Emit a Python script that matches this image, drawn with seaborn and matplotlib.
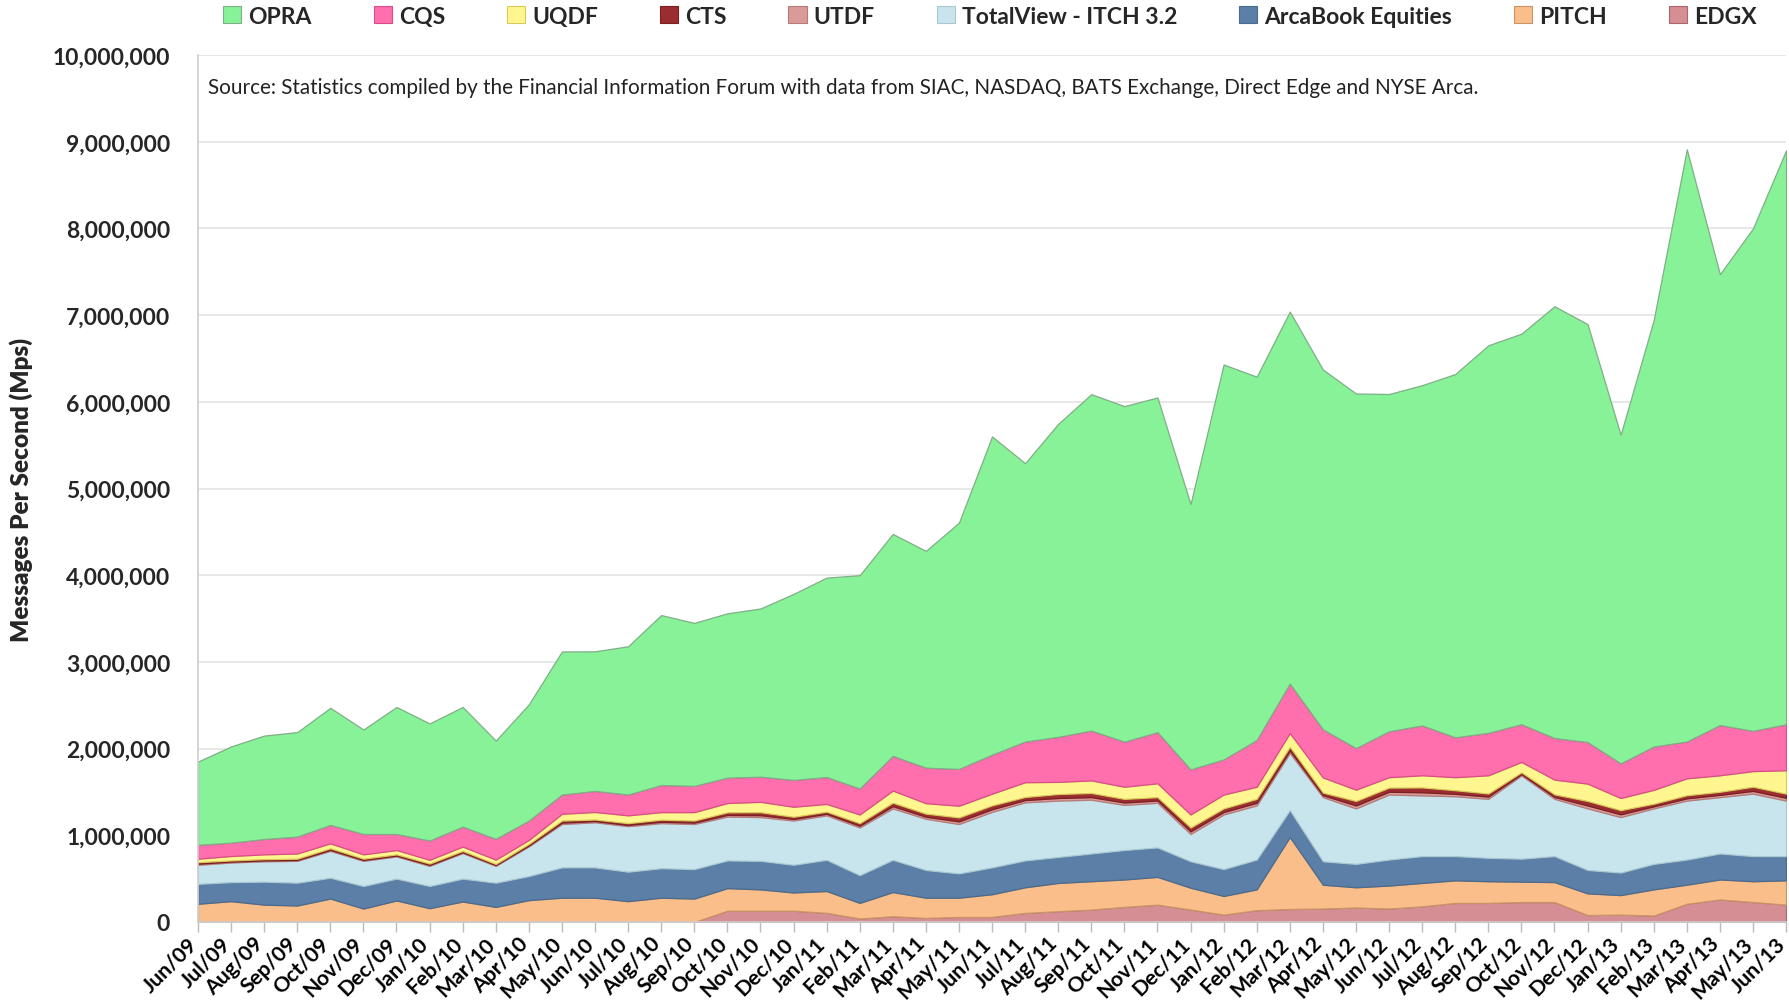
import numpy as np
import pandas as pd
import matplotlib
matplotlib.use("Agg")
import matplotlib.pyplot as plt
import matplotlib.transforms as mtransforms
import seaborn as sns
from matplotlib.ticker import FuncFormatter
from matplotlib.patches import Patch

months = ["Jun/09", "Jul/09", "Aug/09", "Sep/09", "Oct/09", "Nov/09", "Dec/09",
          "Jan/10", "Feb/10", "Mar/10", "Apr/10", "May/10", "Jun/10", "Jul/10",
          "Aug/10", "Sep/10", "Oct/10", "Nov/10", "Dec/10", "Jan/11", "Feb/11",
          "Mar/11", "Apr/11", "May/11", "Jun/11", "Jul/11", "Aug/11", "Sep/11",
          "Oct/11", "Nov/11", "Dec/11", "Jan/12", "Feb/12", "Mar/12", "Apr/12",
          "May/12", "Jun/12", "Jul/12", "Aug/12", "Sep/12", "Oct/12", "Nov/12",
          "Dec/12", "Jan/13", "Feb/13", "Mar/13", "Apr/13", "May/13", "Jun/13"]

# values in thousands of messages per second
edgx = [0, 0, 0, 0, 0, 0, 0, 0, 0, 0, 0, 0, 0, 0, 0, 0,
        130, 130, 130, 105, 40, 66, 47, 58, 58, 105, 124, 143, 174, 200, 143,
        85, 136, 150, 155, 167, 155, 180, 220, 220, 230, 230, 80, 85, 74,
        210, 260, 230, 200]
pitch = [210, 240, 200, 190, 270, 155, 248, 159, 236, 174, 252, 280, 280, 240,
         280, 270, 260, 246, 210, 252, 180, 279, 233, 222, 262, 295, 326, 327,
         316, 320, 252, 215, 240, 830, 275, 233, 265, 270, 260, 250, 235, 230,
         250, 225, 302, 220, 230, 240, 280]
arcabook = [230, 220, 265, 263, 240, 260, 252, 256, 264, 279, 278, 350, 350,
            340, 340, 340, 320, 329, 320, 360, 320, 372, 320, 280, 310, 310,
            300, 320, 340, 340, 305, 310, 344, 310, 270, 270, 300, 310, 280,
            270, 265, 300, 270, 260, 294, 290, 300, 290, 280]
totalview = [220, 226, 235, 252, 310, 290, 256, 232, 295, 194, 342, 500, 520,
             525, 520, 520, 505, 505, 510, 513, 550, 593, 590, 570, 640, 670,
             650, 620, 520, 515, 315, 630, 625, 660, 740, 640, 750, 700, 690,
             680, 960, 660, 710, 640, 640, 680, 650, 720, 640]
utdf = [12, 10, 10, 10, 12, 10, 10, 11, 10, 10, 11, 16, 14, 14, 16, 16,
        20, 22, 18, 18, 20, 26, 24, 30, 30, 26, 30, 30, 28, 26, 30, 28, 30,
        28, 22, 34, 32, 36, 28, 26, 16, 22, 34, 32, 24, 26, 26, 32, 32]
cts = [18, 14, 15, 15, 18, 15, 14, 16, 15, 12, 17, 24, 18, 21, 24, 24,
       30, 34, 26, 24, 30, 40, 36, 46, 45, 36, 46, 48, 42, 39, 45, 42, 45,
       42, 30, 52, 48, 56, 42, 36, 20, 30, 52, 48, 30, 36, 36, 48, 48]
uqdf = [40, 51, 55, 60, 57, 50, 50, 43, 50, 50, 46, 78, 87, 90, 87, 97,
        107, 120, 115, 90, 100, 140, 120, 135, 135, 170, 140, 145, 140, 160,
        150, 160, 140, 160, 175, 130, 120, 140, 150, 210, 120, 170, 200, 140,
        160, 195, 190, 180, 270]
cqs = [160, 154, 177, 195, 213, 235, 185, 223, 230, 240, 224, 222, 243, 240,
       313, 303, 293, 290, 310, 310, 300, 400, 410, 425, 450, 470, 520, 575,
       520, 590, 520, 405, 540, 570, 555, 480, 530, 575, 460, 490, 435, 480,
       480, 400, 500, 425, 580, 465, 530]
opra = [960, 1110, 1193, 1205, 1350, 1205, 1465, 1350, 1380, 1133, 1340, 1650,
        1610, 1710, 1960, 1880, 1895, 1940, 2145, 2300, 2460, 2560, 2500, 2840,
        3670, 3210, 3610, 3880, 3870, 3860, 3060, 4555, 4190, 4290, 4150, 4090,
        3890, 3925, 4190, 4470, 4505, 4980, 4820, 3790, 4920, 6830, 5200, 5795,
        6620]

# stacking order, bottom to top
names = ["EDGX", "PITCH", "ArcaBook Equities", "TotalView - ITCH 3.2", "UTDF",
         "CTS", "UQDF", "CQS", "OPRA"]
colors = ["#D48E94", "#F9BE8A", "#5B7FA6", "#C8E5EE", "#DA9A98",
          "#9B2D30", "#FFF68F", "#FF6EAD", "#88F298"]
edges = ["#A9676B", "#C99566", "#4A6A8E", "#A9C8D2", "#B87A78",
         "#7A1F22", "#D9C95A", "#D94D88", "#7FAF86"]

df = pd.DataFrame({"EDGX": edgx, "PITCH": pitch, "ArcaBook Equities": arcabook,
                   "TotalView - ITCH 3.2": totalview, "UTDF": utdf, "CTS": cts,
                   "UQDF": uqdf, "CQS": cqs, "OPRA": opra}, index=months) * 1000

sns.set_theme(style="white")
plt.rcParams['font.family'] = ['Lato', 'DejaVu Sans']

fig = plt.figure(figsize=(17.9, 10.04), dpi=100)
ax = fig.add_axes([0.1106, 0.0807, 0.8872, 0.8635])

x = np.arange(len(months))
polys = ax.stackplot(x, [df[n].values for n in names], colors=colors, zorder=2)
for p, ec in zip(polys, edges):
    p.set_edgecolor(ec)
    p.set_linewidth(0.9)

ax.set_xlim(0, len(months) - 1)
ax.set_ylim(0, 10_000_000)
ax.set_yticks(np.arange(0, 10_000_001, 1_000_000))
ax.yaxis.set_major_formatter(FuncFormatter(lambda v, _: f"{int(v):,}"))
ax.grid(axis="y", color="#E3E3E3", linewidth=1.2, zorder=0)
ax.set_axisbelow(True)
ax.set_xticks(x)
ax.tick_params(axis="x", length=7, width=1, color="#BBBBBB", pad=1, bottom=True)
ax.tick_params(axis="y", length=0, pad=20, labelsize=16.5)
ax.set_xticklabels(months, rotation=45, ha="right", va="top", rotation_mode="anchor",
                   fontsize=15.3, fontweight="bold", color="black")
for lab in ax.get_yticklabels():
    lab.set_fontweight("bold")
for s in ["top", "right"]:
    ax.spines[s].set_visible(False)
ax.spines["left"].set_color("#CFCFCF")
ax.spines["bottom"].set_color("#CFCFCF")

ax.set_ylabel("Messages Per Second (Mps)", fontsize=17.5, fontweight="heavy",
              labelpad=14)

ax.text(0.0065, 0.975, "Source: Statistics compiled by the Financial Information Forum "
        "with data from SIAC, NASDAQ, BATS Exchange, Direct Edge and NYSE Arca.",
        transform=ax.transAxes, fontsize=14.9, va="top", ha="left", color="#222222")

legend_order = names[::-1]
handles = [Patch(facecolor=colors[names.index(n)], edgecolor=edges[names.index(n)],
                 linewidth=0.8) for n in legend_order]
leg = fig.legend(handles, legend_order, loc="upper center", ncol=9,
                 bbox_to_anchor=(0.553, 1.014), frameon=False,
                 prop={"weight": "bold", "size": 16.5}, handlelength=0.8,
                 handleheight=0.8, handletextpad=0.3, columnspacing=2.7)

# nudge the slanted month labels left so the last one stays inside the figure
fig.canvas.draw()
shift = mtransforms.ScaledTranslation(-11 / 100, 0, fig.dpi_scale_trans)
for tick in ax.xaxis.get_major_ticks():
    tick.label1.set_transform(tick.label1.get_transform() + shift)

fig.savefig("out.png", dpi=100)
